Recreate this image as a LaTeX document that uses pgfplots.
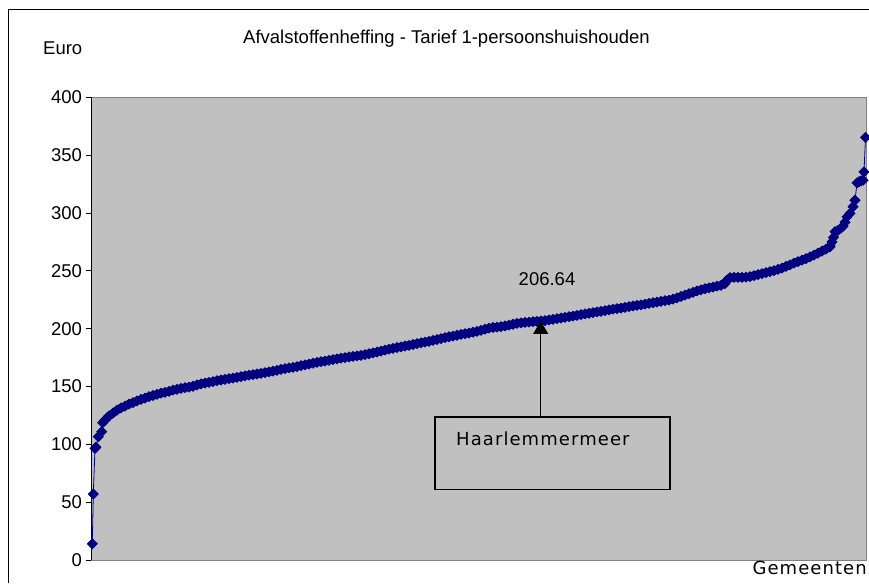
\documentclass[border=0pt]{standalone}
\usepackage{pgfplots}
\pgfplotsset{compat=1.18}
\usepackage{fontspec}
\setmainfont{Liberation Sans}
\newfontfamily\dvfont[LetterSpace=6]{DejaVu Sans}
\usetikzlibrary{arrows.meta}
\definecolor{excelgray}{HTML}{C0C0C0}
\definecolor{framegray}{HTML}{808080}
\definecolor{navy}{HTML}{000080}
\pgfplotstableread{
x y
1.3 14
2.3 57
4 96.5
5 97.5
7.3 106.6
10.7 111
11.7 118.7
14 121
18 124.5
22 127
26 129.5
30 131.5
34 133
38 134.8
42 136
46 137.5
50 138.8
54 140
58 141.2
62 142.2
66 143.2
70 144.2
74 145
78 145.8
82 146.8
86 147.6
90 148.3
94 149
98 149.5
102 150.2
106 151.3
110 152.3
114 153
118 153.6
122 154.2
126 155
130 155.6
134 156.2
138 156.8
142 157.3
146 157.9
150 158.5
154 159.2
158 159.8
162 160.3
166 160.8
170 161.4
174 162
178 162.6
182 163.2
186 164
190 164.8
194 165.4
198 166
202 166.5
206 167.2
210 168
214 168.7
218 169.4
222 170.1
226 170.8
230 171.5
234 172
238 172.6
242 173.3
246 173.9
250 174.5
254 175
258 175.5
262 176
266 176.4
270 176.9
274 177.5
278 178.3
282 179
286 179.8
290 180.6
294 181.5
298 182.3
302 183
306 183.7
310 184.3
314 185
318 185.6
322 186.3
326 187
330 187.8
334 188.4
338 189
342 189.8
346 190.6
350 191.4
354 192.2
358 193
362 193.6
366 194.3
370 195
374 195.6
378 196.2
382 196.9
386 197.6
390 198.5
394 199.5
398 200.4
402 201
406 201.4
410 201.8
414 202.3
418 203
422 203.8
426 204.6
430 205
434 205.4
438 205.7
442 206
446 206.3
450 206.64
454 207
458 207.5
462 208
466 208.6
470 209.2
474 209.8
478 210.3
482 210.9
486 211.5
490 212.1
494 212.7
498 213.3
502 213.9
506 214.5
510 215
514 215.6
518 216.2
522 216.8
526 217.3
530 217.8
534 218.4
538 219
542 219.6
546 220.2
550 220.6
554 221.2
558 221.8
562 222.4
566 223
570 223.6
574 224.2
578 224.7
582 225.5
586 226.6
590 227.8
594 229
598 230.2
602 231.4
606 232.6
610 233.6
614 234.5
618 235.3
622 236
626 236.7
630 237.5
634 239
636 242
639 244
643 244.3
647 244.4
651 244.4
655 244.6
659 245
663 245.8
667 246.7
671 247.6
675 248.5
679 249.3
683 250.2
687 251.2
691 252.4
695 253.8
699 255.2
703 256.6
707 258
711 259.2
715 260.5
719 262
723 263.6
727 265.3
731 267
735 268.8
739 270.8
741 275
742.5 279
744 283.8
747 285
750 287
752 288.5
754 292
756 296.7
759 299.6
762 305.4
764 311
766 326
768 327
770 327.8
772 328.3
773 335.6
774.5 365.3
}\datatable
\begin{document}
\begin{tikzpicture}
\useasboundingbox (0,0) rectangle (869pt,583pt);
\draw[black, line width=1pt] (8pt,0pt) -- (8pt,573pt) -- (869pt,573pt);
\begin{axis}[
  at={(91pt,23pt)}, anchor=south west,
  scale only axis, width=775.7pt, height=462.7pt,
  xmin=0, xmax=775.7, ymin=0, ymax=400,
  ytick={0,50,...,400}, xtick=\empty,
  ytick pos=left,
  tick align=outside, major tick length=5.5pt,
  every tick/.style={black, line width=0.8pt},
  axis background/.style={fill=excelgray},
  axis line style={draw=framegray, line width=0.8pt},
  clip=false,
  /pgf/number format/assume math mode=true,
  yticklabel style={font=\fontsize{18.5}{20}\selectfont},
]
\addplot[color=navy, line width=8pt, no marks, line join=round, line cap=round,
  restrict x to domain=11:742, forget plot] table[x=x,y=y] {\datatable};
\addplot[color=navy, line width=0.8pt, mark=square*, mark size=3.5pt,
  mark options={rotate=45, solid, fill=navy, draw=navy}] table[x=x,y=y] {\datatable};
\draw[black, line width=0.9pt] (axis cs:0,0) -- (axis cs:0,400);
\coordinate (tip) at (axis cs:449.7,206.64);
\end{axis}
\draw[-{Triangle[width=15pt,length=13pt]}, line width=1.2pt] (540.7pt,166pt) -- (tip);
\draw[black, line width=1.2pt] (435pt,93.7pt) rectangle (670pt,166pt);
\node[anchor=base west, inner sep=0pt, font=\dvfont\fontsize{18}{20}\selectfont] at (456pt,137pt) {Haarlemmermeer};
\node[anchor=base east, inner sep=0pt, font=\dvfont\fontsize{18}{20}\selectfont] at (867pt,9pt) {Gemeenten};
\node[anchor=base, inner sep=0pt, font=\fontsize{18.5}{20}\selectfont] at (446.5pt,539.7pt) {Afvalstoffenheffing - Tarief 1-persoonshuishouden};
\node[anchor=base west, inner sep=0pt, font=\fontsize{18.5}{20}\selectfont] at (43pt,528pt) {Euro};
\node[anchor=base, inner sep=0pt, font=\fontsize{18.5}{20}\selectfont] at (547pt,297pt) {206.64};
\end{tikzpicture}
\end{document}
